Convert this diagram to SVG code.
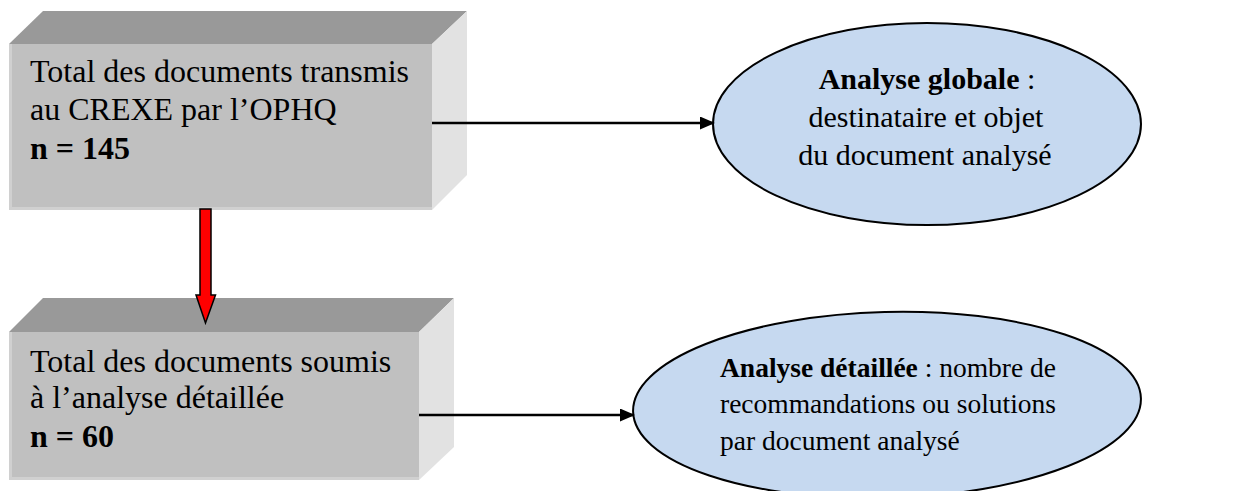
<svg xmlns="http://www.w3.org/2000/svg" width="1235" height="491" viewBox="0 0 1235 491">
<defs>
<style>
.top{fill:#999999}
.front{fill:#c0c0c0}
.side{fill:#e2e2e2}
.edge{fill:#d0d0d0}
.t{font-family:"Liberation Serif","Times New Roman",serif;fill:#000}
.bx{font-size:32px}
.b{font-weight:bold}
.ell{fill:#c6d9f0;stroke:#000;stroke-width:2}
.con{stroke:#000;stroke-width:2.5;fill:none}
</style>
<marker id="ah" viewBox="0 0 15 13" refX="14" refY="6.5" markerWidth="15" markerHeight="13" markerUnits="userSpaceOnUse" orient="auto">
<path d="M0,0 L15,6.5 L0,13 z" fill="#000"/>
</marker>
</defs>
<rect width="1235" height="491" fill="#fff"/>

<g id="box1">
<polygon class="top" points="9,44 43,11 467,11 432,44"/>
<polygon class="side" points="432,44 467,11 467,175 432,210"/>
<rect class="front" x="9" y="44" width="423" height="166"/>
<rect class="edge" x="9" y="44" width="3" height="166"/>
<rect class="edge" x="9" y="207" width="423" height="3"/>
<text class="t bx" x="30" y="82">Total des documents transmis</text>
<text class="t bx" x="30" y="120">au CREXE par l’OPHQ</text>
<text class="t bx b" x="30" y="159">n = 145</text>
</g>

<g id="box2">
<polygon class="top" points="9,332 43,298 454,298 419,332"/>
<polygon class="side" points="419,332 454,298 454,447 419,480"/>
<rect class="front" x="9" y="332" width="410" height="148"/>
<rect class="edge" x="9" y="332" width="3" height="148"/>
<rect class="edge" x="9" y="477" width="410" height="3"/>
<text class="t bx" x="30" y="372">Total des documents soumis</text>
<text class="t bx" x="30" y="408">à l’analyse détaillée</text>
<text class="t bx b" x="30" y="447">n = 60</text>
</g>

<g id="ellipse1">
<ellipse class="ell" cx="927" cy="124" rx="214" ry="101"/>
<text class="t" font-size="30" text-anchor="middle" x="927" y="89"><tspan class="b">Analyse globale</tspan> :</text>
<text class="t" font-size="30" text-anchor="middle" x="926" y="127">destinataire et objet</text>
<text class="t" font-size="30" text-anchor="middle" x="925" y="165">du document analysé</text>
</g>

<g id="ellipse2">
<ellipse class="ell" cx="887" cy="405" rx="254" ry="93" transform="rotate(-1.5 887 405)"/>
<text class="t" font-size="27.5" x="720" y="377"><tspan class="b">Analyse détaillée</tspan> : nombre de</text>
<text class="t" font-size="27.5" x="720" y="413">recommandations ou solutions</text>
<text class="t" font-size="27.5" x="720" y="450">par document analysé</text>
</g>

<g id="connectors">
<line class="con" x1="432" y1="123" x2="714" y2="123" marker-end="url(#ah)"/>
<line class="con" x1="419" y1="415" x2="634" y2="415" marker-end="url(#ah)"/>
<polygon points="200,209 211,209 211,295 215.5,295 205.5,323 196,295 200,295" fill="#ff0000" stroke="#000" stroke-width="1.5" stroke-linejoin="miter"/>
</g>
</svg>
